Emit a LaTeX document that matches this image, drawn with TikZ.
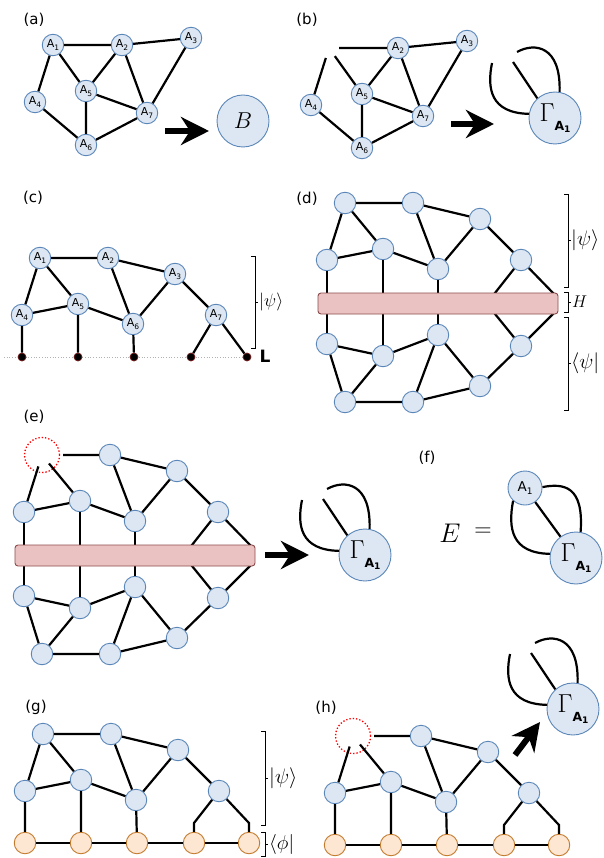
\RequirePackage{fix-cm}
\documentclass[tikz,border=0pt]{standalone}
\usepackage{fontspec}
\usetikzlibrary{arrows.meta,calc}
\newfontfamily\dv{DejaVu Sans}
\definecolor{nfill}{HTML}{DDE7F3}
\definecolor{ndraw}{HTML}{5A86B8}
\definecolor{ofill}{HTML}{FDE7D3}
\definecolor{odraw}{HTML}{C27A2C}
\definecolor{bfill}{HTML}{EBC2C2}
\definecolor{bdraw}{HTML}{8D4B4B}
\definecolor{dotred}{HTML}{7A1D1D}
\newcommand\An[1]{A\raisebox{-2.5pt}{\fontsize{7.5}{7.5}\selectfont #1}}
\newcommand\GamA{{\fontsize{26}{26}\selectfont$\Gamma$}\raisebox{-9.5pt}{\dv\bfseries\fontsize{12.5}{12.5}\selectfont A\raisebox{-2.2pt}{\fontsize{9}{9}\selectfont 1}}}
\tikzset{
 vn/.style={circle,draw=ndraw,fill=nfill,line width=0.9pt,minimum size=21.5pt,inner sep=0pt,font=\dv\fontsize{11}{11}\selectfont},
 onode/.style={circle,draw=odraw,fill=ofill,line width=0.9pt,minimum size=21.5pt,inner sep=0pt},
 gnode/.style={circle,draw=ndraw,fill=nfill,line width=0.9pt,minimum size=52pt,inner sep=0pt},
 ln/.style={line width=2.2pt,black},
 bigarrow/.style={line width=6pt,-{Stealth[length=28pt,width=28pt,inset=9pt]}},
 hbar/.style={rectangle,rounded corners=3pt,draw=bdraw,fill=bfill,line width=0.9pt,minimum width=240pt,minimum height=21pt,inner sep=0pt},
 plabel/.style={font=\dv\fontsize{15}{15}\selectfont},
 ghost/.style={circle,draw=red,dotted,line width=1.3pt,minimum size=35pt,inner sep=0pt},
 ldot/.style={circle,fill=black,draw=dotred,line width=0.7pt,minimum size=8pt,inner sep=0pt},
 dotline/.style={gray!60,dotted,line width=0.7pt},
 brk/.style={line width=0.8pt,black},
 ketlab/.style={anchor=west,inner sep=1pt},
}
\newcommand\upg[7]{%
 \node[vn] (#1u2) at (413,203) {#2};
 \node[vn] (#1u3) at (480,219) {#3};
 \node[vn] (#1u4) at (327,260) {#4};
 \node[vn] (#1u5) at (383,249) {#5};
 \node[vn] (#1u6) at (438,269) {#6};
 \node[vn] (#1u7) at (521,260) {#7};
 \draw[ln] (#1u2)--(#1u3) (#1u4)--(#1u5) (#1u5)--(#1u6) (#1u2)--(#1u6) (#1u3)--(#1u6) (#1u3)--(#1u7);
}
\newcommand\lowg[1]{%
 \node[vn] (#1l1) at (345,402) {};
 \node[vn] (#1l2) at (413,402) {};
 \node[vn] (#1l3) at (480,386) {};
 \node[vn] (#1l4) at (327,344) {};
 \node[vn] (#1l5) at (383,356) {};
 \node[vn] (#1l6) at (438,335) {};
 \node[vn] (#1l7) at (521,346) {};
 \draw[ln] (#1l1)--(#1l2) (#1l2)--(#1l3) (#1l1)--(#1l4) (#1l4)--(#1l5) (#1l5)--(#1l1) (#1l5)--(#1l6) (#1l6)--(#1l2) (#1l6)--(#1l3) (#1l3)--(#1l7);
 \draw[ln] (#1u4)--(#1l4) (#1u5)--(#1l5) (#1u6)--(#1l6);
 \coordinate (#1k1) at (492.6,296); \coordinate (#1k2) at (556,296);
 \coordinate (#1k3) at (492.6,311); \coordinate (#1k4) at (556,311);
 \draw[ln] (#1u7)--(#1k1) (#1u7)--(#1k2) (#1l7)--(#1k3) (#1l7)--(#1k4);
 \node[hbar] (#1bar) at (438,303.5) {};
}
\newcommand\gclust[2]{%
 \node[gnode] (#1) at (#2) {\GamA};
 \draw[ln] ($(#1)+(-63,-55)$) .. controls ($(#1)+(-68,-30)$) and ($(#1)+(-65,-5)$) .. (#1.171);
 \draw[ln] ($(#1)+(-42,-56)$) -- (#1.132);
 \draw[ln] ($(#1)+(-38,-66)$) .. controls ($(#1)+(-20,-76)$) and ($(#1)+(6,-72)$) .. (#1.80);
}
\newcommand\brkt[4]{\draw[brk] ({#1-4},#2) -- (#1,#2) -- (#1,#3) -- ({#1-4},#3) (#1,#4) -- ({#1+3},#4);}
\begin{document}
\begin{tikzpicture}[x=1pt,y=-1pt]
\useasboundingbox (0,0) rectangle (603,858);
% panel labels
\node[plabel] (la) at (34,20) {(a)};
\node[plabel] (lb) at (307,20) {(b)};
\node[plabel] (lc) at (33,198) {(c)};
\node[plabel] (ld) at (307,199) {(d)};
\node[plabel] (le) at (34,417) {(e)};
\node[plabel] (lf) at (427,458) {(f)};
\node[plabel] (lg) at (36,707) {(g)};
\node[plabel] (lh) at (326,708) {(h)};
% (a)
\node[vn] (a1) at (53,45) {\An1};
\node[vn] (a2) at (122,45) {\An2};
\node[vn] (a3) at (191,38) {\An3};
\node[vn] (a4) at (35,102) {\An4};
\node[vn] (a5) at (86,91) {\An5};
\node[vn] (a7) at (147,113) {\An7};
\node[vn] (a6) at (86,145) {\An6};
\draw[ln] (a1)--(a2) (a2)--(a3) (a1)--(a4) (a1)--(a5) (a2)--(a5) (a2)--(a7) (a3)--(a7) (a4)--(a6) (a5)--(a7) (a5)--(a6) (a6)--(a7);
\node[gnode,font=\fontsize{23}{23}\selectfont] (aB) at (243,121) {$B$};
\coordinate (aar1) at (165,131); \coordinate (aar2) at (209,131);
\draw[bigarrow] (aar1)--(aar2);
% (b)
\begin{scope}[shift={(276,3)}]
\coordinate (b1) at (53,45);
\node[vn] (b2) at (122,45) {\An2};
\node[vn] (b3) at (191,38) {\An3};
\node[vn] (b4) at (35,102) {\An4};
\node[vn] (b5) at (86,91) {\An5};
\node[vn] (b7) at (147,113) {\An7};
\node[vn] (b6) at (86,145) {\An6};
\draw[ln] (b2)--(b3) (b2)--(b5) (b2)--(b7) (b3)--(b7) (b4)--(b6) (b5)--(b7) (b5)--(b6) (b6)--(b7);
\draw[ln] ($(b1)!10pt!(b2)$)--(b2) ($(b1)!10.5pt!(b4)$)--(b4) ($(b1)!10pt!(b5)$)--(b5);
\end{scope}
\coordinate (bar1) at (451,124); \coordinate (bar2) at (494,124);
\draw[bigarrow] (bar1)--(bar2);
\gclust{bg}{555,118}
% (c)
\begin{scope}[shift={(-305,55)}]
\coordinate (cs) at (309,302); \coordinate (ce) at (552,302);
\draw[dotline] (cs)--(ce);
\node[ldot] (cd1) at (327,302) {};
\node[ldot] (cd2) at (383,302) {};
\node[ldot] (cd3) at (439,302) {};
\node[ldot] (cd4) at (496,302) {};
\node[ldot] (cd5) at (552,302) {};
\node[vn] (cu1) at (345,203) {\An1};
\upg{c}{\An2}{\An3}{\An4}{\An5}{\An6}{\An7}
\draw[ln] (cu1)--(cu2) (cu1)--(cu4) (cu1)--(cu5);
\draw[ln] (cu4)--(cd1) (cu5)--(cd2) (cu6)--(cd3) (cu7)--(cd4) (cu7)--(cd5);
\end{scope}
\node[font=\dv\bfseries\fontsize{17}{17}\selectfont,inner sep=0pt] (cL) at (265,356) {L};
\brkt{255}{256}{348}{302}
\node[ketlab,font=\fontsize{18}{18}\selectfont] (cpsi) at (258,302) {$|\psi\rangle$};
% (d)
\node[vn] (du1) at (345,203) {};
\upg{d}{}{}{}{}{}{}
\draw[ln] (du1)--(du2) (du1)--(du4) (du1)--(du5);
\lowg{d}
\brkt{568}{194}{287}{240}
\brkt{568}{292}{312}{302}
\brkt{568}{317}{410}{363}
\node[ketlab,font=\fontsize{21}{21}\selectfont] (dpsi) at (570,240) {$|\psi\rangle$};
\node[ketlab,font=\fontsize{17}{17}\selectfont] (dH) at (571,302) {$H$};
\node[ketlab,font=\fontsize{21}{21}\selectfont] (dbra) at (570,363) {$\langle\psi|$};
% (e)
\begin{scope}[shift={(-303,252)}]
\node[ghost] (eu1) at (345,203) {};
\upg{e}{}{}{}{}{}{}
\draw[ln] ($(eu1)!21pt!(eu2)$)--(eu2) ($(eu1)!12pt!(eu4)$)--(eu4) ($(eu1)!11pt!(eu5)$)--(eu5);
\lowg{e}
\end{scope}
\coordinate (ear1) at (265,555); \coordinate (ear2) at (309,555);
\draw[bigarrow] (ear1)--(ear2);
\gclust{eg}{365,555}
% (f)
\node[font=\fontsize{27}{27}\selectfont] (fE) at (450,533) {$E$};
\node[font=\fontsize{24}{24}\selectfont] (feq) at (483,532) {$=$};
\node[vn,minimum size=34pt,font=\dv\fontsize{13.5}{13.5}\selectfont] (fa) at (525,488) {A\raisebox{-3pt}{\fontsize{9}{9}\selectfont 1}};
\node[gnode] (fg) at (576,558) {\GamA};
\draw[ln] (fa.227) .. controls ($(fg)+(-68,-30)$) and ($(fg)+(-65,-5)$) .. (fg.171);
\draw[ln] (fa)--(fg);
\draw[ln] (fa.3) .. controls ($(fg)+(-12,-75)$) and ($(fg)+(8,-72)$) .. (fg.80);
% (g)
\begin{scope}[shift={(-302,531)}]
\node[vn] (gu1) at (345,203) {};
\upg{g}{}{}{}{}{}{}
\draw[ln] (gu1)--(gu2) (gu1)--(gu4) (gu1)--(gu5);
\node[onode] (go1) at (327,312) {};
\node[onode] (go2) at (383,312) {};
\node[onode] (go3) at (439,312) {};
\node[onode] (go4) at (496,312) {};
\node[onode] (go5) at (551,312) {};
\coordinate (gk1) at (496,292); \coordinate (gk2) at (551,292);
\draw[ln] (gu4)--(go1) (gu5)--(go2) (gu6)--(go3);
\draw[ln] (gu7)--(gk1)--(go4);
\draw[ln] (gu7)--(gk2)--(go5);
\draw[ln] (go1)--(go2) (go2)--(go3) (go3)--(go4) (go4)--(go5);
\end{scope}
\brkt{265}{731}{825}{778}
\brkt{265}{832}{856}{844}
\node[ketlab,font=\fontsize{21}{21}\selectfont] (gpsi) at (268,778) {$|\psi\rangle$};
\node[ketlab,font=\fontsize{20}{20}\selectfont] (gphi) at (268,844) {$\langle\phi|$};
% (h)
\begin{scope}[shift={(8,533)}]
\node[ghost] (hu1) at (345,203) {};
\upg{h}{}{}{}{}{}{}
\draw[ln] ($(hu1)!21pt!(hu2)$)--(hu2) ($(hu1)!11pt!(hu4)$)--(hu4) ($(hu1)!11pt!(hu5)$)--(hu5);
\node[onode] (ho1) at (327,312) {};
\node[onode] (ho2) at (383,312) {};
\node[onode] (ho3) at (439,312) {};
\node[onode] (ho4) at (496,312) {};
\node[onode] (ho5) at (551,312) {};
\coordinate (hk1) at (496,292); \coordinate (hk2) at (551,292);
\draw[ln] (hu4)--(ho1) (hu5)--(ho2) (hu6)--(ho3);
\draw[ln] (hu7)--(hk1)--(ho4);
\draw[ln] (hu7)--(hk2)--(ho5);
\draw[ln] (ho1)--(ho2) (ho2)--(ho3) (ho3)--(ho4) (ho4)--(ho5);
\end{scope}
\coordinate (har1) at (515,755); \coordinate (har2) at (540,722);
\draw[bigarrow] (har1)--(har2);
\gclust{hg}{573,709}
\end{tikzpicture}
\end{document}
